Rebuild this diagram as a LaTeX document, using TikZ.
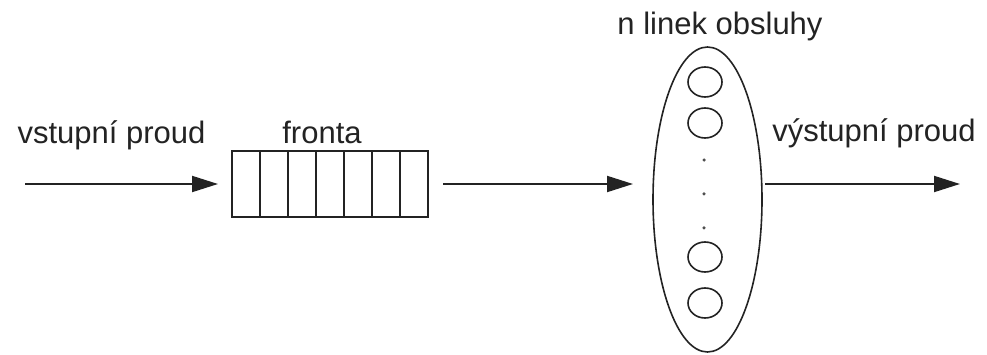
\documentclass[tikz,border=0pt]{standalone}
\usepackage{fontspec}
\setmainfont{Liberation Sans}
\usetikzlibrary{shapes,arrows.meta,positioning}
\definecolor{ink}{RGB}{35,35,35}
\tikzstyle{queue} = [rectangle, draw=ink, line width=1.6pt, minimum width=196pt, minimum height=66pt, inner sep=0pt, outer sep=0pt]
\tikzstyle{servers} = [ellipse, draw=ink, line width=1.6pt, minimum width=109pt, minimum height=305pt, inner sep=0pt, outer sep=0pt]
\tikzstyle{station} = [ellipse, draw=ink, line width=1.6pt, minimum width=34pt, minimum height=30pt, inner sep=0pt, outer sep=0pt]
\tikzstyle{pt} = [circle, fill=ink!80, minimum size=3.5pt, inner sep=0pt]
\tikzstyle{txt} = [text=ink, font=\fontsize{31}{36}\selectfont, inner sep=0pt, anchor=base]
\tikzstyle{tedge} = [draw=ink, line width=2pt, -{Triangle[length=26pt,width=16pt]}]

\begin{document}
\begin{tikzpicture}[x=1pt,y=1pt]
\useasboundingbox (0,0) rectangle (987,354);

% queue ==================================
\node[queue] (fronta) at (330,170) {};
\foreach \i in {1,...,6}
  \draw[line width=1.6pt, ink] ([xshift=\i*28pt]fronta.north west) -- ([xshift=\i*28pt]fronta.south west);

% service lines
\node[servers] (linky) at (707.5,154.5) {};
\node[station] (k1) at (705,272) {};
\node[station, below=11pt of k1] (k2) {};
\node[station] (k4) at (705,51) {};
\node[station, above=16pt of k4] (k3) {};
\node[pt] (d1) at (704,194) {};
\node[pt, below=30pt of d1] (d2) {};
\node[pt, below=30pt of d2] (d3) {};

% labels
\node[txt] (tvstup) at (111.5,211) {vstupní proud};
\node[txt] (tfronta) at (322,211) {fronta};
\node[txt] (tlinky) at (720,319) {n linek obsluhy};
\node[txt] (tvystup) at (874,212) {výstupní proud};

%edges
\coordinate (vstup) at (25,170);
\coordinate (vystup) at (960,170);
\path[tedge, shorten >=14pt] (vstup) -- (fronta);
\path[tedge, shorten <=15pt, shorten >=20pt] (fronta) -- (fronta -| linky.west);
\path[tedge, shorten <=3pt] (linky.east |- vystup) -- (vystup);

\end{tikzpicture}
\end{document}
